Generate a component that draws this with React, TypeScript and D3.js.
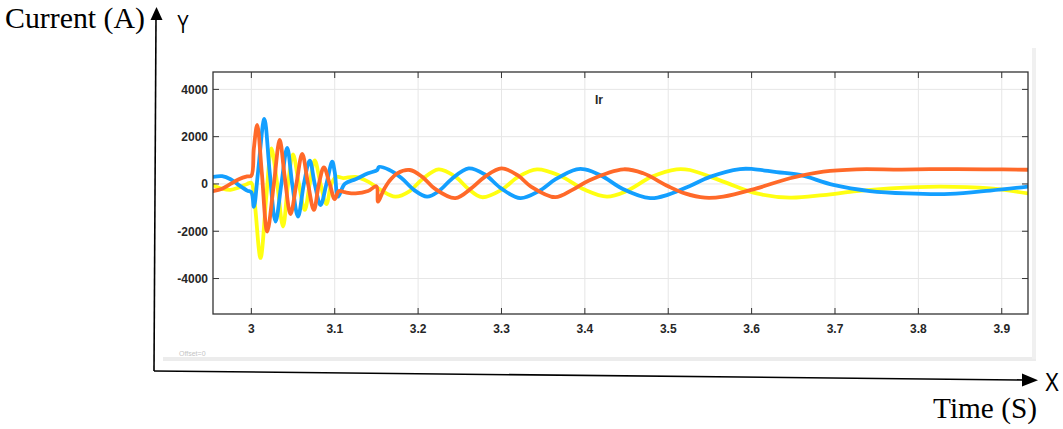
import React from "react";
import * as d3 from "d3";

// ---- data (time s, current A) ----
const xTicks = [3, 3.1, 3.2, 3.3, 3.4, 3.5, 3.6, 3.7, 3.8, 3.9];
const yTicks = [-4000, -2000, 0, 2000, 4000];
const xDomain = [2.954, 3.9315];
const yDomain = [-5500, 4735];

const phaseYellow: [number, number][] = [
  [2.954, -50], [2.965, -200], [2.975, -250], [2.985, -150], [2.995, 0], [3.0, 50],
  [3.004, -800], [3.011, -3130], [3.018, -500], [3.024, 1500], [3.031, 0], [3.038, -1800],
  [3.044, 0], [3.05, 1250], [3.057, 0], [3.064, -1100], [3.07, 0], [3.076, 1000],
  [3.083, 0], [3.09, -850], [3.096, 0], [3.102, 300], [3.11, 250], [3.125, 300],
  [3.14, 100], [3.155, -250], [3.1727, -535], [3.19, -300], [3.205, 200], [3.2246, 620],
  [3.245, 300], [3.26, -200], [3.2766, -560], [3.3, -250], [3.32, 300], [3.3426, 620],
  [3.37, 350], [3.4, -250], [3.4265, -535], [3.45, -300], [3.48, 300], [3.51, 620],
  [3.526, 590], [3.566, 100], [3.606, -400], [3.646, -580], [3.686, -470], [3.726, -300],
  [3.766, -185], [3.826, -110], [3.886, -185], [3.9315, -400],
];

const phaseBlue: [number, number][] = [
  [2.954, 300], [2.965, 330], [2.975, 200], [2.985, -50], [2.995, -280], [3.0, -350],
  [3.003, -970], [3.008, 500], [3.0156, 2750], [3.022, 500], [3.029, -1590], [3.036, 0],
  [3.043, 1520], [3.049, 0], [3.056, -1380], [3.063, 0], [3.07, 990], [3.076, 0],
  [3.083, -890], [3.09, 0], [3.097, 940], [3.1, 500], [3.104, -540], [3.112, 0],
  [3.125, 200], [3.14, 450], [3.151, 590], [3.153, 720], [3.165, 600], [3.18, 250],
  [3.195, -250], [3.2107, -535], [3.225, -300], [3.24, 200], [3.2606, 660], [3.28, 400],
  [3.3, -200], [3.3225, -600], [3.345, -300], [3.365, 200], [3.39, 620], [3.4, 620],
  [3.42, 350], [3.445, -200], [3.4784, -600], [3.5, -450], [3.526, -85], [3.55, 300],
  [3.586, 630], [3.602, 630], [3.63, 500], [3.658, 380], [3.698, -40], [3.742, -300],
  [3.786, -400], [3.838, -420], [3.886, -280], [3.9315, -110],
];

const phaseOrange: [number, number][] = [
  [2.954, -300], [2.965, -200], [2.975, 0], [2.985, 200], [2.995, 320], [3.0, 350],
  [3.003, 1500], [3.007, 2500], [3.0125, 500], [3.019, -2010], [3.027, 0], [3.034, 1860],
  [3.04, 300], [3.047, -1270], [3.054, 0], [3.061, 1270], [3.068, 0], [3.075, -1100],
  [3.081, 0], [3.087, 700], [3.094, 0], [3.1, -640], [3.105, -300], [3.112, -350],
  [3.125, -400], [3.14, -300], [3.15, -100], [3.152, -750], [3.158, -300], [3.165, 100],
  [3.175, 450], [3.19, 590], [3.205, 300], [3.22, -200], [3.2446, -600], [3.265, -150],
  [3.28, 300], [3.3, 660], [3.32, 350], [3.335, -100], [3.3645, -560], [3.385, -250],
  [3.405, 150], [3.4464, 620], [3.47, 450], [3.5, -100], [3.52, -400], [3.544, -580],
  [3.566, -535], [3.606, -185], [3.646, 240], [3.686, 520], [3.726, 620], [3.78, 610],
  [3.83, 630], [3.88, 620], [3.9315, 600],
];

const seriesColors = ["#FFFF11", "#139FFF", "#FF6929"];

export default function App() {
  const W = 1063, H = 429;
  const L = 213, R = 1028, T = 72, B = 314;
  const x = d3.scaleLinear().domain(xDomain).range([L, R]);
  const y = d3.scaleLinear().domain(yDomain).range([B, T]);
  const line = d3
    .line<[number, number]>()
    .x((d) => x(d[0]))
    .y((d) => y(d[1]))
    .curve(d3.curveCatmullRom.alpha(0.5));
  const series = [phaseYellow, phaseBlue, phaseOrange];
  const tickFont = "'Liberation Sans', Arial, sans-serif";

  return (
    <svg width={W} height={H} style={{ position: "absolute", left: 0, top: 0, background: "#fff" }}>
      <defs>
        <clipPath id="plotClip">
          <rect x={L} y={T} width={R - L} height={B - T} />
        </clipPath>
      </defs>

      {/* figure frame shadow */}
      <line x1={163} y1={359} x2={1036} y2={359} stroke="#ececec" strokeWidth={4} />
      <line x1={1034} y1={48} x2={1034} y2={359} stroke="#f0f0f0" strokeWidth={4} />
      <text x={179} y={356} fontSize={7} fill="#c4c4c4" fontFamily={tickFont}>Offset=0</text>

      {/* grid */}
      {xTicks.map((t) => (
        <line key={"gx" + t} x1={x(t)} x2={x(t)} y1={T} y2={B} stroke="#e6e6e6" strokeWidth={1} />
      ))}
      {yTicks.map((t) => (
        <line key={"gy" + t} x1={L} x2={R} y1={y(t)} y2={y(t)} stroke="#e6e6e6" strokeWidth={1} />
      ))}

      {/* series */}
      <g clipPath="url(#plotClip)">
        {series.map((s, i) => (
          <path key={i} d={line(s) || ""} fill="none" stroke={seriesColors[i]} strokeWidth={3.8}
            strokeLinejoin="round" strokeLinecap="round" />
        ))}
      </g>

      {/* axes box */}
      <rect x={L} y={T} width={R - L} height={B - T} fill="none" stroke="#333" strokeWidth={1.3} />
      {xTicks.map((t) => (
        <g key={"tx" + t}>
          <line x1={x(t)} x2={x(t)} y1={B} y2={B - 6} stroke="#333" />
          <line x1={x(t)} x2={x(t)} y1={T} y2={T + 6} stroke="#333" />
          <text x={x(t)} y={333} textAnchor="middle" fontSize={12} fontWeight="bold"
            fontFamily={tickFont} fill="#262626">{t}</text>
        </g>
      ))}
      {yTicks.map((t) => (
        <g key={"ty" + t}>
          <line x1={L} x2={L + 6} y1={y(t)} y2={y(t)} stroke="#333" />
          <line x1={R} x2={R - 6} y1={y(t)} y2={y(t)} stroke="#333" />
          <text x={208} y={y(t) + 4.5} textAnchor="end" fontSize={12} fontWeight="bold"
            fontFamily={tickFont} fill="#262626">{t}</text>
        </g>
      ))}
      <text x={599} y={104} textAnchor="middle" fontSize={12} fontWeight="bold"
        fontFamily={tickFont} fill="#262626">Ir</text>

      {/* outer axis arrows */}
      <line x1={154} y1={371} x2={156} y2={18} stroke="#000" strokeWidth={1.6} />
      <path d="M156.5,7 L150.5,20 L162.5,20 Z" fill="#000" />
      <line x1={154} y1={371} x2={1024} y2={380} stroke="#000" strokeWidth={1.6} />
      <path d="M1038,380.2 L1022,373.5 L1022,386.5 Z" fill="#000" />

      {/* labels */}
      <text x={5} y={28} fontSize={29} fontFamily="'Liberation Serif', 'Times New Roman', serif"
        textLength={140} lengthAdjust="spacingAndGlyphs">Current (A)</text>
      <text x={177} y={33} fontSize={25} fontFamily={tickFont}
        textLength={12} lengthAdjust="spacingAndGlyphs">Y</text>
      <text x={1045} y={391} fontSize={25} fontFamily={tickFont}
        textLength={14} lengthAdjust="spacingAndGlyphs">X</text>
      <text x={933} y={418} fontSize={29} fontFamily="'Liberation Serif', 'Times New Roman', serif"
        textLength={104} lengthAdjust="spacingAndGlyphs">Time (S)</text>
    </svg>
  );
}
